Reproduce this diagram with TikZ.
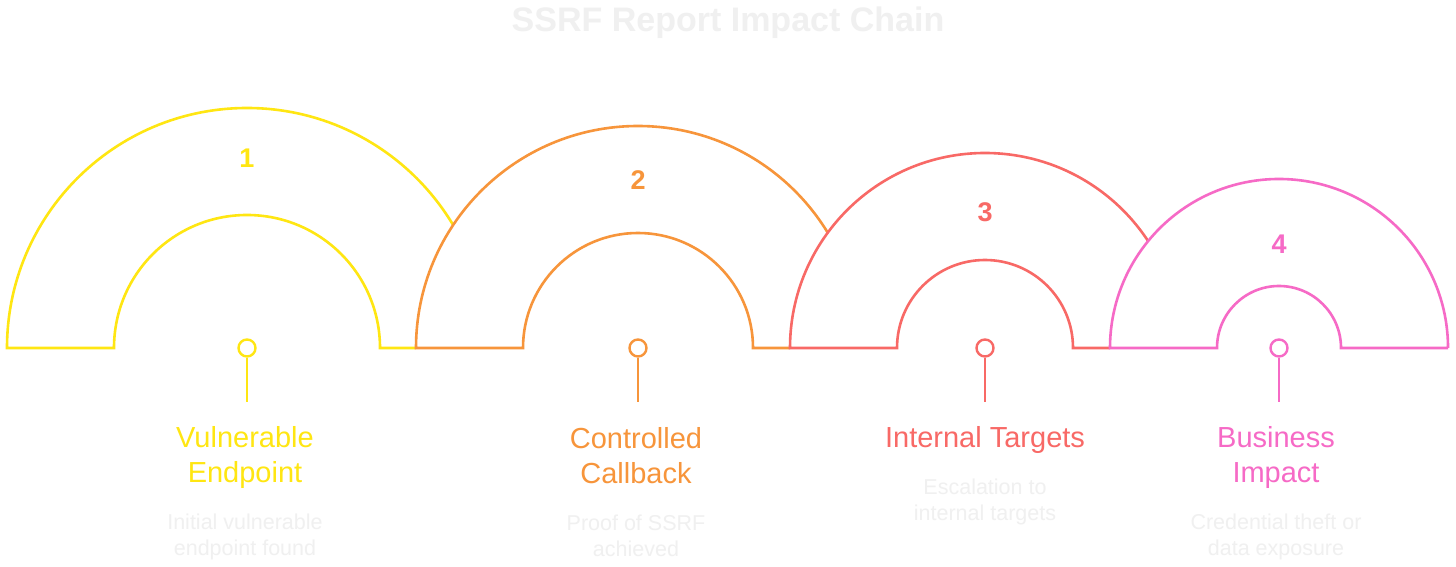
\documentclass[tikz,border=0pt]{standalone}
\usepackage{fontspec}
\setmainfont{Liberation Sans}
\definecolor{cyel}{HTML}{FFE612}
\definecolor{cora}{HTML}{F7953B}
\definecolor{cred}{HTML}{F86966}
\definecolor{cpink}{HTML}{F66AC6}
\definecolor{cfaint}{HTML}{F0F0F0}
\tikzset{
  ringline/.style={line width=2.6pt, line join=miter},
  numlbl/.style={font=\fontsize{27}{30}\selectfont\bfseries, inner sep=0pt},
  pin/.style={circle, line width=2.4pt, minimum size=17pt, inner sep=0pt, fill=white},
  stem/.style={line width=2.4pt},
  steplbl/.style={font=\fontsize{29}{35}\selectfont, align=center, inner sep=0pt},
  desclbl/.style={font=\fontsize{21.5}{26}\selectfont, align=center, inner sep=0pt, text=cfaint},
  titlelbl/.style={font=\fontsize{34}{40}\selectfont\bfseries, text=cfaint, inner sep=0pt}
}
\begin{document}
\begin{tikzpicture}[x=1pt,y=1pt]
\useasboundingbox[fill=white] (0,0) rectangle (1456,567);
% title
\node[titlelbl] (title) at (728,544) {SSRF Report Impact Chain};
% half rings: centre x, outer R, inner r, left edge of the next ring; base y = 219
\foreach \cx/\R/\r/\nx/\col in {247/240/133/416/cyel, 638/222/115/790/cora, 985/195/88/1110/cred, 1279/169/62/1448/cpink}{
  \fill[white] (\cx-\R,219) arc[start angle=180, end angle=0, radius=\R]
     -- (\cx+\r,219) arc[start angle=0, end angle=180, radius=\r] -- cycle;
  \draw[ringline, draw=\col] (\nx,219) -- (\cx+\r,219) arc[start angle=0, end angle=180, radius=\r]
     -- (\cx-\R,219) arc[start angle=180, end angle=0, radius=\R];
}
% numbers
\node[numlbl, text=cyel] (n1) at (247,409) {1};
\node[numlbl, text=cora] (n2) at (638,387) {2};
\node[numlbl, text=cred] (n3) at (985,355) {3};
\node[numlbl, text=cpink] (n4) at (1279,323) {4};
% pins
\node[pin, draw=cyel] (p1) at (247,219) {};
\node[pin, draw=cora] (p2) at (638,219) {};
\node[pin, draw=cred] (p3) at (985,219) {};
\node[pin, draw=cpink] (p4) at (1279,219) {};
\coordinate (e1) at (247,165);
\coordinate (e2) at (638,165);
\coordinate (e3) at (985,165);
\coordinate (e4) at (1279,165);
\draw[stem, cyel] (p1.south) -- (e1);
\draw[stem, cora] (p2.south) -- (e2);
\draw[stem, cred] (p3.south) -- (e3);
\draw[stem, cpink] (p4.south) -- (e4);
% step labels
\node[steplbl, text=cyel] (l1) at (245,109.5) {Vulnerable\\Endpoint};
\node[steplbl, text=cora] (l2) at (636,111.5) {Controlled\\Callback};
\node[steplbl, text=cred] (l3) at (985,127) {Internal Targets};
\node[steplbl, text=cpink] (l4) at (1276,109.5) {Business\\Impact};
% descriptions
\node[desclbl] (d1) at (245,30) {Initial vulnerable\\endpoint found};
\node[desclbl] (d2) at (636,31) {Proof of SSRF\\achieved};
\node[desclbl] (d3) at (985,65) {Escalation to\\internal targets};
\node[desclbl] (d4) at (1276,30) {Credential theft or\\data exposure};
\end{tikzpicture}
\end{document}
